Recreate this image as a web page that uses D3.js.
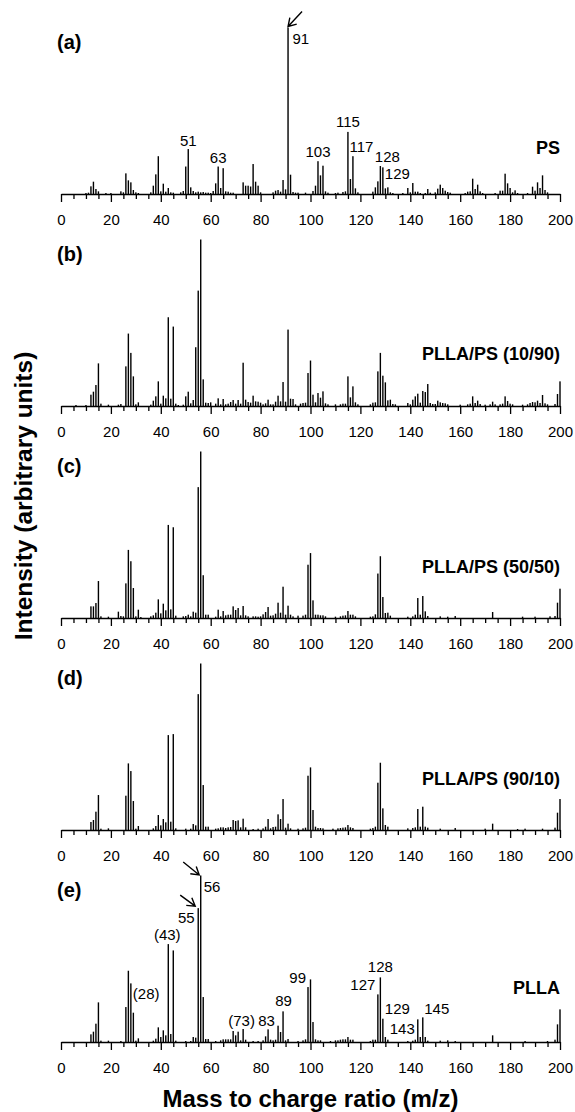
<!DOCTYPE html>
<html>
<head>
<meta charset="utf-8">
<script src="https://cdn.jsdelivr.net/npm/d3@7"></script>
<style>
  body { margin: 0; background: #fff; }
  svg text { font-family: Arial, "Liberation Sans", sans-serif; fill: #000; }
</style>
</head>
<body>
<div id="chart"></div>
<script>

      // ---- data: [m/z, relative intensity %] ----
      var psPeaks = [
        [10,0.6],[11,0.8],[12,4.6],[13,7.4],[14,3],[15,1.6],[18,0.6],[20,0.6],[24,1.6],[25,1],
        [26,12.4],[27,8.2],[28,7],[29,2.4],[30,1],[31,0.6],[36,1],[37,5],[38,11.8],[39,22.7],
        [40,1.6],[41,6.2],[42,1.4],[43,3.6],[44,1],[45,0.8],[48,1],[49,1.8],[50,16.5],[51,27],
        [52,4],[53,1.8],[54,1],[55,1.4],[56,1],[57,1.2],[58,0.8],[59,0.8],[60,0.6],[61,1.8],
        [62,6.4],[63,16.5],[64,3.6],[65,15.5],[66,1.6],[67,1.4],[68,0.8],[69,0.8],[73,7],[74,5],
        [75,5],[76,4.5],[77,18],[78,7.4],[79,5],[80,1],[85,1],[86,2],[87,2.4],[88,1.4],
        [89,8.4],[90,2.8],[91,100],[92,11.6],[93,1.2],[94,0.8],[95,0.8],[98,0.8],[101,1.8],[102,5],
        [103,19.7],[104,11.2],[105,17],[106,1.6],[107,0.8],[110,0.6],[111,0.8],[113,1.2],[114,1.6],[115,37.3],
        [116,9],[117,22.7],[118,3.4],[119,1],[125,1.4],[126,4],[127,7.6],[128,16.8],[129,16],[130,3.4],
        [131,4],[132,1],[133,0.6],[137,0.6],[139,3.6],[140,1],[141,6.6],[142,1.4],[143,1.4],[144,0.6],
        [146,0.6],[147,3],[148,0.8],[150,1],[151,3.2],[152,5.6],[153,3.6],[154,2],[155,1.2],[156,0.8],
        [162,0.6],[163,1.4],[164,1.6],[165,9.2],[166,3],[167,5.6],[168,1.6],[169,0.6],[174,0.6],[176,2],
        [177,2],[178,12.2],[179,6.4],[180,3.6],[181,1],[182,2.2],[183,0.6],[187,0.6],[189,4.4],[190,2],
        [191,7],[192,3.6],[193,11.2],[194,2.4],[195,1]
      ];

      var blend1090Peaks = [
        [6,0.6],[10,0.6],[12,6.8],[13,8.6],[14,12.6],[15,25.6],[16,1.4],[19,0.8],[23,0.8],[24,1.2],
        [26,23.8],[27,43.5],[28,31.9],[29,17.8],[30,1],[31,2.2],[36,0.8],[37,3.2],[38,5.8],[39,14.8],
        [40,1.4],[41,6.2],[42,4.6],[43,53.3],[44,4.4],[45,47.7],[46,1.4],[47,0.6],[49,0.8],[50,5.8],
        [51,8.6],[52,1.6],[53,3.6],[54,35.3],[55,69.3],[56,100],[57,16],[58,2],[59,1.8],[60,2.2],
        [62,1.4],[63,4.6],[64,1],[65,4.2],[66,1],[67,1.4],[68,2.4],[69,3.6],[70,1.4],[71,3.6],
        [72,1.4],[73,26],[74,3.8],[75,2.4],[76,2],[77,6.2],[78,2.8],[79,2.6],[80,2],[81,1],
        [82,1.6],[83,3.8],[84,1],[85,1],[86,2.6],[87,6.2],[88,2.8],[89,14.4],[90,2.6],[91,45.9],
        [92,4.4],[93,4.2],[94,1],[96,1.4],[97,1.8],[98,2],[99,19.8],[100,27.3],[101,6.8],[102,2.2],
        [103,7.8],[104,5],[105,8.8],[106,1.6],[107,1],[110,1],[112,1],[113,1.4],[114,1.4],[115,17.8],
        [116,5.2],[117,11.8],[118,2.2],[119,1],[124,1],[125,2],[126,2.2],[127,20.8],[128,31.9],[129,18.2],
        [130,14.2],[131,3.4],[132,3.8],[133,1.2],[134,1],[139,1.8],[140,1],[141,3.8],[142,5.8],[143,7.4],
        [144,2],[145,9],[146,8.4],[147,13.2],[148,1.8],[149,1.2],[150,1.2],[151,3.2],[152,2.2],[153,1.8],
        [154,1.6],[155,1],[160,0.8],[163,1],[164,1.4],[165,5.8],[166,1.8],[167,3.2],[168,1.2],[170,0.8],
        [172,1],[173,2.6],[174,1],[176,1],[177,1.4],[178,5.8],[179,3],[180,1.4],[181,1],[185,0.8],
        [187,1],[188,1.8],[189,2.4],[190,2.2],[191,3.2],[192,1.8],[193,6.6],[194,1.6],[195,1],[198,1.2],
        [199,7.2],[200,14.8]
      ];

      var blend5050Peaks = [
        [12,7],[13,7],[14,9],[15,22.2],[16,1],[19,0.8],[23,3.8],[24,1.2],[25,1],[26,20.8],
        [27,40.9],[28,34.1],[29,18],[30,1],[31,5],[32,0.6],[36,1],[37,1.6],[38,3.2],[39,11.2],
        [40,2.8],[41,8.6],[42,4.6],[43,55.9],[44,5.2],[45,54.5],[46,1.4],[49,1],[50,1.2],[51,2],
        [52,1],[53,3.8],[54,3.2],[55,78.6],[56,100],[57,25.7],[58,2],[59,2],[62,0.8],[63,5],
        [64,1],[65,4.2],[66,1.6],[67,2],[68,2],[69,7],[70,4.8],[71,6],[72,1.6],[73,7.2],
        [74,1.6],[75,1],[77,1],[78,1],[79,0.8],[80,1],[81,2.2],[82,3.6],[83,6.6],[84,1.4],
        [85,1.6],[86,2.6],[87,9.2],[88,3.2],[89,18.8],[90,2],[91,7.4],[92,2],[93,1],[95,1.4],
        [97,1.4],[98,2],[99,32],[100,39],[101,10.6],[102,2],[103,2],[104,1.6],[105,1.6],[106,1],
        [110,0.8],[112,1],[113,1.4],[114,1.6],[115,4.2],[116,2],[117,2],[118,1],[124,0.8],[125,1],
        [126,2.2],[127,26.7],[128,37.1],[129,12.6],[130,3],[131,3.2],[132,1.4],[139,0.8],[141,1],[142,2],
        [143,12],[144,2],[145,13.2],[146,4],[147,1.2],[152,1],[155,0.8],[158,1.2],[173,3.6],[185,0.8],
        [190,0.8],[196,1],[198,1.2],[199,9.2],[200,17.6]
      ];

      var blend9010Peaks = [
        [12,4.8],[13,6],[14,11],[15,21],[16,0.8],[19,1],[26,20.6],[27,40],[28,35.4],[29,17.4],
        [30,0.8],[31,2.4],[37,1],[38,2.4],[39,9],[40,2.8],[41,6.6],[42,4.6],[43,57],[44,5],
        [45,57.6],[46,1],[50,0.8],[52,0.8],[53,3.6],[54,2.8],[55,81.6],[56,100],[57,27],[58,2],
        [59,2],[62,0.8],[63,1],[64,1.6],[65,1.6],[66,1.2],[67,1.6],[68,1.8],[69,6],[70,5.4],
        [71,5.8],[72,1.6],[73,6.8],[74,1.6],[77,0.6],[79,0.8],[81,1],[82,2],[83,6.6],[84,1],
        [85,1.8],[86,2],[87,9.4],[88,6.6],[89,18.6],[90,1.4],[91,3.8],[92,1],[95,0.8],[97,1],
        [98,1.4],[99,32.6],[100,37.6],[101,12],[102,2],[103,1.2],[104,1.2],[105,1],[109,0.8],[111,1],
        [112,1.2],[113,1.4],[114,1.6],[115,3],[116,1.6],[117,1.2],[124,0.8],[125,1.2],[126,2],[127,28.4],
        [128,40.4],[129,13],[130,3],[131,2],[139,1],[141,1.2],[142,1.6],[143,12.6],[144,2],[145,14],
        [146,2],[147,1.4],[152,0.8],[158,1.2],[170,0.8],[173,3.8],[183,0.6],[186,0.8],[193,0.8],[198,1.4],
        [199,10.4],[200,18.6]
      ];

      var pllaPeaks = [
        [12,4.6],[13,6.2],[14,11],[15,23.8],[16,0.8],[19,0.8],[24,0.6],[26,21],[27,42.8],[28,35.2],
        [29,17.6],[30,0.8],[31,2.2],[37,0.8],[38,2],[39,8.8],[40,3],[41,7],[42,4],[43,58.8],
        [44,4.8],[45,55],[46,0.8],[50,0.6],[52,0.6],[53,3],[54,2.6],[55,80.4],[56,100],[57,27],
        [58,1.8],[59,1.8],[62,0.6],[64,1],[65,1.6],[66,1.6],[67,1.6],[68,1.6],[69,6.6],[70,4],
        [71,6.2],[72,1],[73,7.8],[74,1.4],[77,0.6],[79,0.6],[81,1],[82,3.4],[83,7.6],[84,1.4],
        [85,1],[86,1.4],[87,9.8],[88,6],[89,18.4],[90,1],[91,1.8],[95,0.6],[97,1],[98,1.6],
        [99,33],[100,37.6],[101,12],[102,1.6],[103,1],[104,1],[108,0.6],[110,1],[111,1],[112,1.4],
        [113,1.6],[114,1.6],[115,3],[116,1.4],[117,1.4],[124,0.6],[125,1.4],[126,1.4],[127,28.6],[128,38.8],
        [129,14],[130,3],[131,1.4],[139,0.6],[141,0.8],[142,1.4],[143,13.6],[144,3],[145,14.8],[146,3],
        [147,0.8],[152,0.8],[155,1],[158,0.6],[173,4],[186,0.6],[195,0.6],[198,1.4],[199,10.6],[200,19.6]
      ];

      var panelLetters = ["(a)", "(b)", "(c)", "(d)", "(e)"];
      var seriesNames = ["PS", "PLLA/PS (10/90)", "PLLA/PS (50/50)", "PLLA/PS (90/10)", "PLLA"];

      var majorTicks = [0, 20, 40, 60, 80, 100, 120, 140, 160, 180, 200];
      var minorTicks = [5, 10, 15, 25, 30, 35, 45, 50, 55, 65, 70, 75, 85, 90, 95,
                        105, 110, 115, 125, 130, 135, 145, 150, 155, 165, 170, 175, 185, 190, 195];

      // peak labels: [m/z, text]
      var psLabels = [[91,"91"],[51,"51"],[63,"63"],[103,"103"],[115,"115"],[117,"117"],[128,"128"],[129,"129"]];
      var pllaLabels = [[56,"56"],[55,"55"],[43,"(43)"],[28,"(28)"],[73,"(73)"],[83,"83"],[89,"89"],
                        [99,"99"],[127,"127"],[128,"128"],[129,"129"],[143,"143"],[145,"145"]];

      var xTitle = "Mass to charge ratio (m/z)";
      var yTitle = "Intensity (arbitrary units)";

      // ---- placement of the labels (anchor, dx, dy from bar top) ----
      var psLabelPos = [["start",4.5,16],["middle",0,-3],["middle",0,-4],["middle",0,-4],["middle",0,-5],
                        ["start",-3.5,-4.5],["start",-5.5,-4],["start",2,11.5]];
      var pllaLabelPos = [["start",3,16],["end",-3.5,15],["middle",-1,-4],["start",2,15.5],["middle",-1.5,-3],
                          ["middle",-1.5,-3],["middle",0.5,-5],["end",-2,-4],["end",-2.5,-4],["middle",0,-5.5],
                          ["start",2,-4.5],["end",-3,14.5],["start",1.5,-3.5]];
      var nameDy = [-40, -46, -45.5, -45, -48.5];

      var allPeaks = [psPeaks, blend1090Peaks, blend5050Peaks, blend9010Peaks, pllaPeaks];

      var width = 575, height = 1112;
      var firstBase = 194, panelStep = 212;

      var svg = d3.select("#chart").append("svg")
                .attr("width", width)
                .attr("height", height);

      ////// Define Scales /////////////////
      var xScale = d3.scaleLinear()
          .domain([0, 200])
          .range([61, 560]);
      var yScale = d3.scaleLinear()
          .domain([0, 100])
          .range([0, 166.5]);

      allPeaks.forEach(function(peaks, i) {

          var g = svg.append("g")
              .attr("transform", "translate(0," + (firstBase + i * panelStep) + ")");

          // spectrum bars
          g.append("g")
              .selectAll("rect")
              .data(peaks)
              .enter()
              .append("rect")
              .attr("x", function(d) { return xScale(d[0]) - 0.7; })
              .attr("y", function(d) { return -yScale(d[1]); })
              .attr("width", 1.4)
              .attr("height", function(d) { return yScale(d[1]); })
              .attr("fill", "#000");

          // minor ticks
          var minorAxis = g.append("g")
              .call(d3.axisBottom(xScale).tickValues(minorTicks).tickSize(5).tickSizeOuter(0).tickFormat(""));
          minorAxis.select(".domain").remove();
          minorAxis.selectAll("line").attr("stroke", "#000").attr("stroke-width", 1.3);

          // major ticks and labels
          var majorAxis = g.append("g")
              .call(d3.axisBottom(xScale).tickValues(majorTicks).tickSize(8).tickPadding(12.3).tickSizeOuter(0))
              .attr("font-size", 15)
              .attr("font-family", "Arial, 'Liberation Sans', sans-serif");
          majorAxis.select(".domain").attr("stroke", "#000").attr("stroke-width", 1.7);
          majorAxis.selectAll("line").attr("stroke", "#000").attr("stroke-width", 1.3);
          majorAxis.selectAll("text").attr("fill", "#000");

          // panel letter
          g.append("text")
              .attr("x", 57)
              .attr("y", -145.5)
              .attr("font-size", 20)
              .attr("font-weight", "bold")
              .text(panelLetters[i]);

          // sample name
          g.append("text")
              .attr("x", 560)
              .attr("y", nameDy[i])
              .attr("text-anchor", "end")
              .attr("font-size", 18)
              .attr("font-weight", "bold")
              .text(seriesNames[i]);

          var labels = null, pos = null;
          if (i === 0) { labels = psLabels; pos = psLabelPos; }
          if (i === 4) { labels = pllaLabels; pos = pllaLabelPos; }
          if (labels) {
              var lookup = {};
              peaks.forEach(function(d) { lookup[d[0]] = d[1]; });
              labels.forEach(function(l, k) {
                  g.append("text")
                      .attr("x", xScale(l[0]) + pos[k][1])
                      .attr("y", -yScale(lookup[l[0]]) + pos[k][2])
                      .attr("text-anchor", pos[k][0])
                      .attr("font-size", 15)
                      .text(l[1]);
              });
          }

          // arrows pointing at the base peaks
          if (i === 0) {
              drawArrow(g, xScale(91), -yScale(100) - 1, 14, -15);
          }
          if (i === 4) {
              drawArrow(g, xScale(56) - 1.5, -yScale(100) - 0.5, -16, -13);
              drawArrow(g, xScale(55) - 3, -yScale(80.4) - 2, -15, -11);
          }
      });

      function drawArrow(g, tx, ty, ddx, ddy) {
          var ang = Math.atan2(ddy, ddx);
          var len = 9, spread = 0.55;
          var path = "M" + (tx + ddx) + "," + (ty + ddy) + "L" + tx + "," + ty +
                     "M" + (tx + len * Math.cos(ang - spread)) + "," + (ty + len * Math.sin(ang - spread)) +
                     "L" + tx + "," + ty +
                     "L" + (tx + len * Math.cos(ang + spread)) + "," + (ty + len * Math.sin(ang + spread));
          g.append("path")
              .attr("d", path)
              .attr("fill", "none")
              .attr("stroke", "#000")
              .attr("stroke-width", 1.4);
      }

      // axis titles
      svg.append("text")
          .attr("x", 310.5)
          .attr("y", 1107)
          .attr("text-anchor", "middle")
          .attr("font-size", 24)
          .attr("font-weight", "bold")
          .text(xTitle);

      svg.append("text")
          .attr("transform", "translate(32,496) rotate(-90)")
          .attr("text-anchor", "middle")
          .attr("font-size", 24.5)
          .attr("font-weight", "bold")
          .text(yTitle);

</script>
</body>
</html>
